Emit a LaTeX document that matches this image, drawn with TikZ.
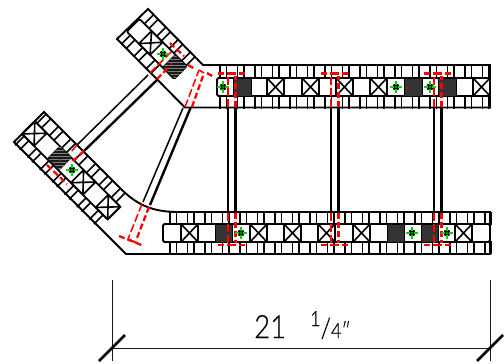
\documentclass[tikz,border=0pt]{standalone}
\usepackage{fontspec}
\IfFontExistsTF{Lato Light}{\newfontfamily\dimfont[FakeBold=0.4,FakeStretch=0.86]{Lato Light}}{\newfontfamily\dimfont{Lato}}
\usetikzlibrary{calc}
\tikzset{
  outline/.style={line width=1.9pt,black},
  thinline/.style={line width=1.6pt,black},
  tickline/.style={line width=1.6pt,black},
  bandline/.style={line width=1.8pt,black,rounded corners=1.5pt},
  strutthin/.style={line width=1.5pt,black},
  strutthick/.style={line width=2.4pt,black},
  reddash/.style={line width=2.3pt,red,dash pattern=on 6pt off 3pt},
  redthin/.style={line width=1.5pt,red,dash pattern=on 8pt off 3pt},
  redcap/.style={line width=2.6pt,red,dash pattern=on 6pt off 3pt on 9pt off 3pt on 6pt off 30pt},
  dimline/.style={line width=1pt,black!90},
  dimtick/.style={line width=2.6pt,black},
  dimtext/.style={inner sep=0pt,font=\dimfont}
}
\newcommand{\tickrow}[4]{\foreach \u in {#1,#2,...,#3}{%
  \draw[tickline] (\u,#4) -- +(0,13); \draw[tickline] ({\u+6.5},#4) -- +(0,13);}}
\newcommand{\xcell}[2]{\draw[thinline] (#1,13) rectangle (#2,31) (#1,13) -- (#2,31) (#1,31) -- (#2,13);}
\newcommand{\darkcell}[2]{\fill[black!80] (#1,13) rectangle (#2,31);\draw[line width=1pt,black] (#1,13) rectangle (#2,31);}
\newcommand{\marker}[2]{\fill[black] (#1,#2) circle (3.6);
  \draw[line width=1.2pt,green!85!black] ($(#1,#2)+(-6,0)$) -- ($(#1,#2)+(-2,0)$) ($(#1,#2)+(2,0)$) -- ($(#1,#2)+(6,0)$) ($(#1,#2)+(0,-6)$) -- ($(#1,#2)+(0,-2)$) ($(#1,#2)+(0,2)$) -- ($(#1,#2)+(0,6)$);
  \fill[green!55!black] (#1,#2) circle (1.5);}
\begin{document}
\begin{tikzpicture}[x=1pt,y=1pt,yscale=-1]
\useasboundingbox (0,0) rectangle (504,364);
\fill[white] (0,0) rectangle (504,364);
% top chord
\begin{scope}[shift={(0,65)}]
  \tickrow{220}{237.5}{486}{0}
  \tickrow{220}{237.5}{486}{31}
  \draw[bandline,fill=white] (217,13) rectangle (490,31);
  \foreach \a/\b in {267/284,302/319,336/353,370/387,473/490}{\xcell{\a}{\b}}
  \foreach \a/\b in {233/251,404/422,438/456}{\darkcell{\a}{\b}}
\end{scope}
% bottom chord
\begin{scope}[shift={(0,212)}]
  \tickrow{170}{187.5}{486}{0}
  \tickrow{170}{187.5}{486}{29}
  \draw[bandline,fill=white] (163,12) rectangle (490,30);
  \begin{scope}[shift={(0,-1)}]
  \foreach \a/\b in {181/198,250/267,284/301,318/335,353/370,455/472}{\xcell{\a}{\b}}
  \foreach \a/\b in {215/232,387/404,421/438}{\darkcell{\a}{\b}}
  \end{scope}
\end{scope}
% upper diagonal
\begin{scope}[shift={(148,9)},rotate=45]
  \tickrow{8}{25.5}{61}{0}
  \tickrow{6}{23.5}{47}{31}
  \draw[bandline,fill=white] (1,13) rectangle (68,31);
  \xcell{18}{34}
\end{scope}
% left diagonal
\begin{scope}[shift={(44,112)},rotate=45]
  \tickrow{3}{20.5}{108}{0}
  \tickrow{3}{20.5}{108}{31}
  \draw[bandline,fill=white] (0,13) rectangle (121,31);
  \xcell{0}{17}
  \xcell{69}{86}
  \xcell{104}{121}
\end{scope}
% outline
\draw[outline] (148,9) -- (117,39) -- (185,107.5) -- (490,107.5) -- (490,65) -- (203,65) -- cycle;
\draw[outline] (44,112) -- (14,142) -- (126,254) -- (490,254) -- (490,212) -- (178,212)
  .. controls (150,212) and (135,203) .. (120,188) -- cycle;
% struts
\draw[strutthin] (148,75) -- (77,145);
\draw[strutthick] (157,80) -- (84,151);
\draw[strutthin] (183,108) -- (143,202);
\draw[strutthick] (190.5,108) -- (150,205);
\foreach \x in {228,331,434}{
  \draw[strutthin] (\x,108) -- (\x,212);
  \draw[strutthick] ({\x+7.5},108) -- ({\x+7.5},212);
}
% red chord ends
\foreach \x in {228,331,434}{
  \draw[redthin] (\x,107) -- (\x,76);
  \draw[reddash] ({\x+7.5},107) -- ({\x+7.5},76);
  \draw[redcap] ({\x-10},73.5) -- ({\x+19},73.5);
  \draw[redthin] (\x,213) -- (\x,243);
  \draw[reddash] ({\x+7.5},213) -- ({\x+7.5},243);
  \draw[redcap] ({\x-10},245) -- ({\x+19},245);
}
% diagonal hatched blocks
\begin{scope}[shift={(148,9)},rotate=45]
  \fill[black!90,rounded corners=1.5pt] (51,13) rectangle (68,31);
\end{scope}
\begin{scope}[shift={(44,112)},rotate=45]
  \fill[black!90,rounded corners=1.5pt] (35,13) rectangle (52,31);
\end{scope}
\begin{scope}
  \clip (175,55) -- (187,67) -- (175,79) -- (163,67) -- cycle;
  \foreach \y in {56,59,...,78}{\draw[line width=.4pt,black!50] (160,\y) -- (190,\y);}
\end{scope}
\begin{scope}
  \clip (60,146) -- (72,158) -- (60,170) -- (48,158) -- cycle;
  \foreach \y in {147,150,...,169}{\draw[line width=.4pt,black!50] (45,\y) -- (75,\y);}
\end{scope}
% red: upper diagonal and gusset
\draw[reddash] (170,43) -- (184,56);
\draw[reddash] (188,65) -- (195,69);
\draw[reddash] (207,73) -- (214,77);
\draw[redthin] (150,73) -- (171,52);
\draw[reddash] (157,79) -- (168,68);
\draw[redthin] (185,107) -- (199,70);
\draw[reddash] (192,107) -- (204,73);
\draw[line width=1.6pt,red] (199,70) -- (204,73);
% red: left diagonal
\draw[redthin] (77,145) -- (71,152);
\draw[reddash] (84,151) -- (72,162);
\draw[reddash] (47,165) -- (67,184);
% red: lower strut
\draw[redthin] (142,204) -- (128,239);
\draw[reddash] (149,207) -- (137,238);
\draw[reddash] (119,236) -- (144,246);
\draw[line width=1.8pt,red] (128,239) -- (137,243);
% red dots
\foreach \x/\y in {236/88,407/88,441/88,171/64,60/160}{\fill[red] (\x,\y) circle (1);}
% markers
\marker{223}{87}\marker{396}{87}\marker{430}{87}
\marker{241}{233}\marker{412}{233}\marker{447}{233}
\marker{163}{54}\marker{72}{170}
% dimension
\coordinate (dl) at (112,348);
\coordinate (dr) at (490,348);
\draw[dimline] (112,280) -- (112,361);
\draw[dimline] (490,280) -- (490,361);
\draw[dimline] (dl) -- (dr);
\draw[dimtick] (99,361) -- (125,335);
\draw[dimtick] (477,361) -- (503,335);
\node[dimtext,anchor=base west] (dimlabel) at (254,338)
  {\fontsize{32}{32}\selectfont 21\hspace{24pt}\raisebox{12pt}{\fontsize{21}{21}\selectfont 1}{\fontsize{28}{28}\selectfont /}{\fontsize{21}{21}\selectfont 4}{\fontsize{21}{21}\selectfont ″}};
\end{tikzpicture}
\end{document}
